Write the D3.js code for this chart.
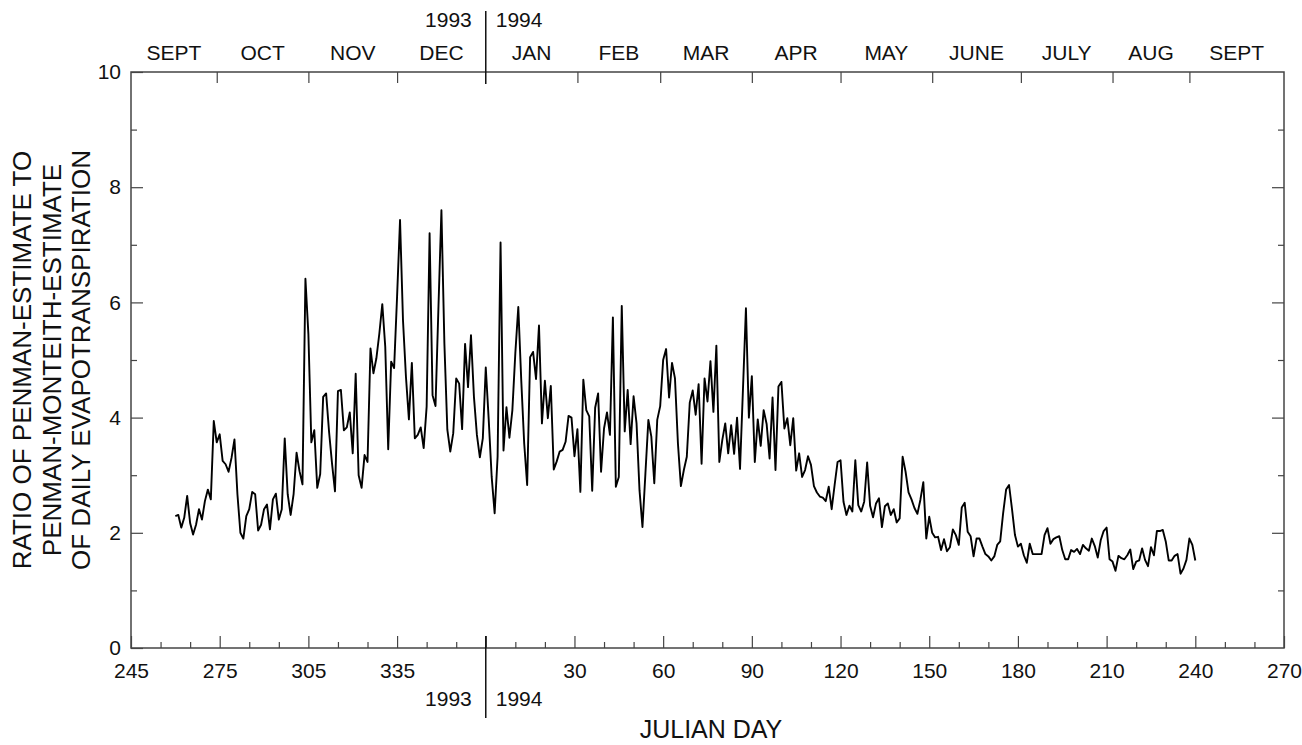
<!DOCTYPE html>
<html>
<head>
<meta charset="utf-8">
<script src="https://cdn.jsdelivr.net/npm/d3@7"></script>
<style>
  html, body { margin: 0; padding: 0; background: #fff; }
  svg { display: block; }
  text { font-family: "Liberation Sans", Arial, Helvetica, sans-serif; fill: #111; }
</style>
</head>
<body>
<svg id="chart" width="1302" height="745"></svg>
<script>
// Daily ratio of Penman to Penman-Monteith evapotranspiration estimates.
// 1993: Julian days 260-365; 1994: Julian days 1-240.
const start1993 = 260;
const ratio1993 = [
  2.29, 2.31, 2.09, 2.26, 2.64, 2.17, 1.97, 2.14, 2.41, 2.23,
  2.55, 2.75, 2.58, 3.94, 3.57, 3.71, 3.25, 3.19, 3.06, 3.30,
  3.62, 2.67, 2.00, 1.90, 2.29, 2.41, 2.71, 2.67, 2.04, 2.14,
  2.41, 2.49, 2.06, 2.58, 2.68, 2.23, 2.41, 3.64, 2.67, 2.31,
  2.67, 3.39, 3.07, 2.84, 6.41, 5.45, 3.57, 3.78, 2.78, 3.02,
  4.36, 4.42, 3.75, 3.20, 2.72, 4.46, 4.48, 3.78, 3.83, 4.09,
  3.38, 4.76, 3.00, 2.78, 3.35, 3.23, 5.20, 4.77, 5.03, 5.46,
  5.97, 5.23, 3.45, 4.97, 4.86, 6.10, 7.43, 5.69, 4.71, 3.97,
  4.95, 3.64, 3.70, 3.83, 3.47, 4.19, 7.20, 4.39, 4.20, 5.93,
  7.60, 5.29, 3.79, 3.41, 3.73, 4.68, 4.59, 3.80, 5.28, 4.53,
  5.43, 4.36, 3.70, 3.31, 3.64, 4.87
];
const start1994 = 1;
const ratio1994 = [
  3.96, 2.97, 2.34, 3.32, 7.04, 3.43, 4.18, 3.65, 4.13, 5.12,
  5.92, 4.65, 3.55, 2.83, 5.05, 5.14, 4.67, 5.60, 3.90, 4.64,
  3.99, 4.55, 3.10, 3.24, 3.41, 3.44, 3.58, 4.03, 4.00, 3.33,
  3.80, 2.71, 4.66, 4.13, 4.02, 2.73, 4.17, 4.42, 3.06, 3.81,
  4.09, 3.70, 5.74, 2.80, 2.97, 5.94, 3.76, 4.48, 3.54, 4.37,
  3.90, 2.74, 2.10, 3.03, 3.96, 3.67, 2.86, 3.96, 4.20, 5.00,
  5.19, 4.35, 4.95, 4.68, 3.55, 2.81, 3.09, 3.32, 4.26, 4.47,
  4.05, 4.58, 3.20, 4.68, 4.28, 4.98, 4.10, 5.25, 3.23, 3.61,
  3.90, 3.38, 3.87, 3.37, 4.00, 3.11, 4.50, 5.90, 4.00, 4.72,
  3.23, 3.97, 3.51, 4.13, 3.89, 3.29, 4.35, 3.09, 4.54, 4.62,
  3.81, 3.99, 3.52, 3.99, 3.08, 3.38, 2.97, 3.09, 3.33, 3.18,
  2.81, 2.70, 2.63, 2.61, 2.55, 2.80, 2.41, 2.83, 3.23, 3.26,
  2.54, 2.31, 2.47, 2.37, 3.26, 2.48, 2.37, 2.54, 3.22, 2.47,
  2.27, 2.51, 2.60, 2.10, 2.46, 2.51, 2.31, 2.41, 2.18, 2.25,
  3.32, 3.06, 2.70, 2.58, 2.43, 2.33, 2.57, 2.88, 1.90, 2.28,
  2.00, 1.92, 1.93, 1.70, 1.89, 1.68, 1.75, 2.06, 1.96, 1.79,
  2.44, 2.52, 2.02, 1.94, 1.59, 1.90, 1.90, 1.76, 1.63, 1.59,
  1.52, 1.59, 1.79, 1.85, 2.34, 2.75, 2.83, 2.41, 1.96, 1.76,
  1.81, 1.61, 1.48, 1.81, 1.63, 1.63, 1.63, 1.63, 1.96, 2.08,
  1.81, 1.89, 1.92, 1.94, 1.70, 1.54, 1.54, 1.70, 1.67, 1.72,
  1.63, 1.79, 1.73, 1.69, 1.90, 1.77, 1.57, 1.87, 2.03, 2.09,
  1.54, 1.50, 1.34, 1.60, 1.56, 1.54, 1.61, 1.71, 1.37, 1.50,
  1.52, 1.73, 1.53, 1.42, 1.75, 1.61, 2.03, 2.03, 2.05, 1.85,
  1.52, 1.52, 1.60, 1.63, 1.29, 1.38, 1.53, 1.90, 1.79, 1.52
];

// Bottom axis: Julian-day ticks (continuous day count; 1994 days follow day 365)
const dayTicksMajor = [245, 275, 305, 335, 365, 395, 425, 455, 485, 515, 545, 575, 605, 635];
const dayTickLabels = ["245", "275", "305", "335", "", "30", "60", "90", "120", "150", "180", "210", "240", "270"];
const dayTicksMinor = [255, 265, 285, 295, 315, 325, 345, 355, 375, 385, 405, 415, 435, 445,
                       465, 475, 495, 505, 525, 535, 555, 565, 585, 595, 615, 625];

// Top axis: month boundaries and month names
const monthBounds = [245, 274, 305, 335, 365, 396, 424, 455, 485, 516, 546, 577, 603, 635];
const monthNames = ["SEPT", "OCT", "NOV", "DEC", "JAN", "FEB", "MAR", "APR", "MAY", "JUNE", "JULY", "AUG", "SEPT"];

// Y axis
const yTicksMajor = [0, 2, 4, 6, 8, 10];
const yTicksMinor = [1, 3, 5, 7, 9];
const yearBreak = 365;
const yTitleLines = ["RATIO OF PENMAN-ESTIMATE TO", "PENMAN-MONTEITH-ESTIMATE", "OF DAILY EVAPOTRANSPIRATION"];

const series = [
  ...ratio1993.map((v, i) => ({ day: start1993 + i, value: v })),
  ...ratio1994.map((v, i) => ({ day: yearBreak + start1994 + i, value: v }))
];

const svg = d3.select("#chart");
const plotL = 131, plotR = 1284, plotT = 72, plotB = 648;
const x = d3.scaleLinear().domain([245, 635]).range([plotL, plotR]);
const y = d3.scaleLinear().domain([0, 10]).range([plotB, plotT]);

const axisColor = "#444";
const fontSize = 21;
const titleSize = 26;

// Frame
svg.append("rect")
  .attr("x", plotL).attr("y", plotT)
  .attr("width", plotR - plotL).attr("height", plotB - plotT)
  .attr("fill", "none").attr("stroke", axisColor).attr("stroke-width", 1.5);

function styleTicks(g) {
  g.select(".domain").remove();
  g.selectAll(".tick line").attr("stroke", axisColor).attr("stroke-width", 1.2);
  g.selectAll(".tick text").style("font-size", fontSize + "px").attr("fill", "#111")
    .style("font-family", "'Liberation Sans', Arial, sans-serif");
}

// Bottom axis (ticks pointing into the plot)
svg.append("g").attr("transform", `translate(0,${plotB})`)
  .call(d3.axisBottom(x).tickValues(dayTicksMajor)
    .tickSizeInner(-12).tickSizeOuter(0).tickPadding(15)
    .tickFormat((d, i) => dayTickLabels[i]))
  .call(styleTicks);
svg.append("g").attr("transform", `translate(0,${plotB})`)
  .call(d3.axisBottom(x).tickValues(dayTicksMinor).tickSizeInner(-6).tickSizeOuter(0).tickFormat(""))
  .call(styleTicks);

// Top axis: month boundary ticks
const interiorBounds = monthBounds.slice(1, -1).filter(d => d !== yearBreak);
svg.append("g").attr("transform", `translate(0,${plotT})`)
  .call(d3.axisTop(x).tickValues(interiorBounds).tickSizeInner(-11).tickSizeOuter(0).tickFormat(""))
  .call(styleTicks);

// Month names centred between boundaries
svg.append("g").selectAll("text")
  .data(monthNames)
  .join("text")
  .attr("x", (d, i) => (x(monthBounds[i]) + x(monthBounds[i + 1])) / 2)
  .attr("y", 60)
  .attr("text-anchor", "middle")
  .style("font-size", fontSize + "px")
  .text(d => d);

// Left axis
svg.append("g").attr("transform", `translate(${plotL},0)`)
  .call(d3.axisLeft(y).tickValues(yTicksMajor).tickSizeInner(-12).tickSizeOuter(0)
    .tickPadding(10).tickFormat(d3.format("d")))
  .call(styleTicks);
svg.append("g").attr("transform", `translate(${plotL},0)`)
  .call(d3.axisLeft(y).tickValues(yTicksMinor).tickSizeInner(-6).tickSizeOuter(0).tickFormat(""))
  .call(styleTicks);

// Right axis
svg.append("g").attr("transform", `translate(${plotR},0)`)
  .call(d3.axisRight(y).tickValues(yTicksMajor.slice(1, -1)).tickSizeInner(-12).tickSizeOuter(0).tickFormat(""))
  .call(styleTicks);
svg.append("g").attr("transform", `translate(${plotR},0)`)
  .call(d3.axisRight(y).tickValues(yTicksMinor).tickSizeInner(-6).tickSizeOuter(0).tickFormat(""))
  .call(styleTicks);

// Year divider lines and year labels
const xb = x(yearBreak);
svg.append("line").attr("x1", xb).attr("x2", xb).attr("y1", 11).attr("y2", plotT + 12)
  .attr("stroke", "#111").attr("stroke-width", 1.5);
svg.append("line").attr("x1", xb).attr("x2", xb).attr("y1", plotB - 12).attr("y2", 718)
  .attr("stroke", "#111").attr("stroke-width", 1.5);

const yearLabels = [
  { text: "1993", anchor: "end", dx: -14, y: 27 },
  { text: "1994", anchor: "start", dx: 10, y: 27 },
  { text: "1993", anchor: "end", dx: -14, y: 706 },
  { text: "1994", anchor: "start", dx: 10, y: 706 }
];
svg.append("g").selectAll("text")
  .data(yearLabels)
  .join("text")
  .attr("x", d => xb + d.dx)
  .attr("y", d => d.y)
  .attr("text-anchor", d => d.anchor)
  .style("font-size", fontSize + "px")
  .text(d => d.text);

// Axis titles
svg.append("text")
  .attr("x", 711)
  .attr("y", 738)
  .attr("text-anchor", "middle")
  .style("font-size", "25px")
  .text("JULIAN DAY");

const yTitle = svg.append("text")
  .attr("transform", `translate(31,${(plotT + plotB) / 2}) rotate(-90)`)
  .attr("text-anchor", "middle")
  .style("font-size", titleSize + "px");
yTitle.selectAll("tspan")
  .data(yTitleLines)
  .join("tspan")
  .attr("x", 0)
  .attr("dy", (d, i) => i === 0 ? 0 : 29.5)
  .text(d => d);

// Ratio line
const line = d3.line().x(d => x(d.day)).y(d => y(d.value));
svg.append("path")
  .datum(series)
  .attr("fill", "none")
  .attr("stroke", "#000")
  .attr("stroke-width", 1.9)
  .attr("stroke-linejoin", "round")
  .attr("d", line);
</script>
</body>
</html>
